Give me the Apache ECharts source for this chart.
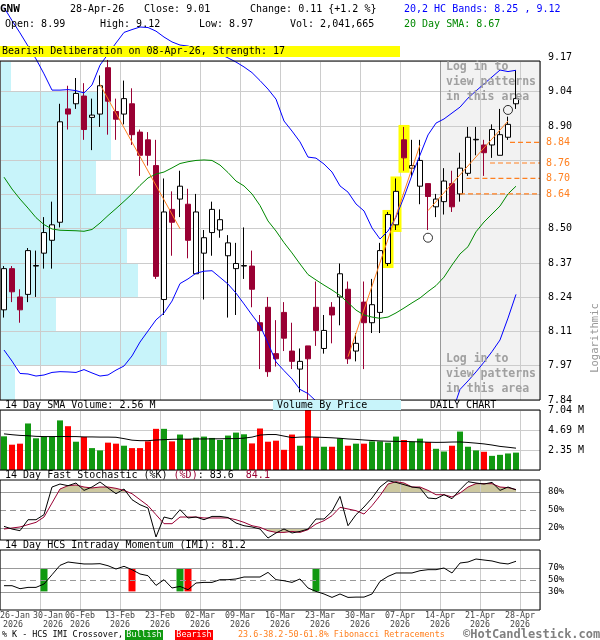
<!DOCTYPE html>
<html><head><meta charset="utf-8">
<script src="https://cdn.jsdelivr.net/npm/echarts@6/dist/echarts.min.js"></script>
<style>html,body{margin:0;padding:0;background:#fff}#c{width:600px;height:640px}</style>
</head><body><div id="c"></div>
<script>
// ---------------- DATA ----------------
const dates = ['26-Jan','27-Jan','28-Jan','29-Jan','30-Jan','02-Feb','03-Feb','04-Feb','05-Feb','06-Feb',
'09-Feb','10-Feb','11-Feb','12-Feb','13-Feb','17-Feb','18-Feb','19-Feb','20-Feb','23-Feb',
'24-Feb','25-Feb','26-Feb','27-Feb','02-Mar','03-Mar','04-Mar','05-Mar','06-Mar','09-Mar',
'10-Mar','11-Mar','12-Mar','13-Mar','16-Mar','17-Mar','18-Mar','19-Mar','20-Mar','23-Mar',
'24-Mar','25-Mar','26-Mar','27-Mar','30-Mar','31-Mar','01-Apr','02-Apr','06-Apr','07-Apr',
'08-Apr','09-Apr','10-Apr','13-Apr','14-Apr','15-Apr','16-Apr','17-Apr','20-Apr','21-Apr',
'22-Apr','23-Apr','24-Apr','27-Apr','28-Apr'];
const open  = [8.19,8.35,8.24,8.25,8.36,8.41,8.46,8.53,8.97,8.99, 9.02,8.937,8.95,9.13,8.96,8.95,8.99,8.88,8.85,8.75,
               8.23,8.58,8.62,8.60,8.33,8.41,8.49,8.50,8.40,8.35, 8.36,8.36,8.14,8.20,8.02,8.18,8.03,7.96,8.05,8.20,
               8.04,8.20,8.24,8.27,8.03,8.22,8.14,8.18,8.37,8.52, 8.85,8.74,8.67,8.68,8.59,8.61,8.68,8.64,8.72,8.85,
               8.83,8.83,8.79,8.86,8.99];
const high  = [8.36,8.36,8.27,8.43,8.42,8.55,8.61,8.99,9.06,9.09, 9.07,9.01,9.10,9.16,9.01,9.08,9.05,8.89,8.88,8.85,
               8.70,8.65,8.73,8.66,8.64,8.50,8.61,8.58,8.48,8.45, 8.51,8.42,8.17,8.24,8.15,8.22,8.14,8.04,8.05,8.30,
               8.17,8.22,8.37,8.30,8.10,8.30,8.31,8.45,8.57,8.70, 8.90,8.85,8.85,8.68,8.64,8.74,8.73,8.80,8.90,8.90,
               8.85,8.91,8.97,8.94,9.12];
const low   = [8.16,8.22,8.14,8.22,8.24,8.35,8.35,8.51,8.89,8.97, 8.85,8.81,8.90,8.87,8.85,8.91,8.83,8.71,8.75,8.31,
               8.17,8.40,8.55,8.39,8.33,8.23,8.40,8.47,8.16,8.17, 8.31,8.20,7.96,7.93,7.97,8.03,7.96,7.87,7.83,8.05,
               8.02,8.06,8.13,7.98,7.99,7.96,8.10,8.10,8.36,8.50, 8.73,8.71,8.60,8.50,8.55,8.56,8.57,8.61,8.71,8.79,
               8.71,8.78,8.79,8.85,8.97];
const close = [8.35,8.26,8.19,8.42,8.362,8.49,8.52,8.92,8.95,9.03, 8.89,8.946,9.06,9.00,8.93,9.01,8.87,8.79,8.79,8.32,
               8.57,8.53,8.67,8.46,8.57,8.47,8.58,8.54,8.45,8.37, 8.362,8.27,8.11,7.95,8.00,8.08,7.99,7.99,8.00,8.11,
               8.11,8.17,8.33,8.00,8.06,8.14,8.21,8.42,8.56,8.65, 8.78,8.75,8.77,8.63,8.62,8.69,8.59,8.74,8.86,8.852,
               8.80,8.89,8.87,8.91,9.01];
const volume = [3.95,2.97,3.09,5.46,3.72,3.92,3.92,5.82,5.14,3.32, 3.88,2.57,2.30,3.21,3.09,2.85,2.57,2.57,3.36,4.83,
                4.83,3.36,4.16,3.64,3.80,3.92,3.76,3.52,4.04,4.39, 4.19,3.12,4.87,3.32,3.44,2.37,4.16,2.85,7.04,3.83,
                2.73,2.73,3.72,2.85,3.09,3.09,3.36,3.36,3.21,3.92, 3.52,3.32,3.68,3.28,2.49,2.17,2.85,4.51,2.73,2.30,
                2.14,1.66,1.78,1.94,2.04];
const volSMA = [4.24,4.14,4.06,4.02,3.95,3.92,3.92,3.93,3.92,3.92, 3.88,3.88,3.86,3.86,3.84,3.68,3.50,3.44,3.44,3.52,
                3.56,3.60,3.62,3.62,3.64,3.64,3.66,3.66,3.68,3.68, 3.74,3.86,4.10,4.16,4.16,3.98,3.80,3.86,3.88,3.86,
                3.82,3.78,3.72,3.64,3.59,3.52,3.46,3.41,3.38,3.36, 3.35,3.32,3.30,3.26,3.24,3.25,3.28,3.29,3.23,3.15,
                3.06,2.93,2.77,2.67,2.56];
const upperBand = [9.364,9.313,9.265,9.214,9.164,9.106,9.043,9.043,9.045,9.041, 9.032,9.063,9.140,9.183,9.226,9.267,9.278,9.288,9.286,9.272,
                   9.249,9.230,9.218,9.214,9.206,9.203,9.199,9.183,9.168,9.152, 9.133,9.111,9.080,9.047,9.008,8.923,8.884,8.842,8.783,8.779,
                   8.756,8.725,8.671,8.647,8.601,8.574,8.508,8.465,8.496,8.550, 8.628,8.713,8.791,8.869,8.915,8.931,8.954,8.977,9.012,9.040,
                   9.067,9.094,9.121,9.115,9.12];
const lowerBand = [8.034,7.991,7.943,7.941,7.933,7.937,7.947,7.950,7.949,7.947, 7.958,7.945,7.933,7.937,7.956,7.972,8.011,8.065,8.108,8.151,
                   8.178,8.224,8.292,8.310,8.332,8.340,8.342,8.316,8.290,8.255, 8.213,8.170,8.129,8.061,7.988,7.954,7.922,7.881,7.865,7.836,
                   7.80,7.77,7.75,7.73,7.71,7.70,7.70,7.70,7.70,7.71, 7.72,7.72,7.73,7.73,7.74,7.76,7.79,7.881,7.914,7.949,
                   7.987,8.028,8.073,8.158,8.25];
const sma20 = [8.705,8.659,8.620,8.585,8.548,8.521,8.504,8.499,8.498,8.497, 8.495,8.502,8.527,8.556,8.583,8.611,8.640,8.673,8.702,8.717,
               8.725,8.741,8.758,8.765,8.770,8.772,8.770,8.752,8.723,8.690, 8.671,8.640,8.595,8.535,8.496,8.451,8.411,8.368,8.327,8.306,
               8.286,8.267,8.246,8.218,8.189,8.170,8.162,8.157,8.162,8.178, 8.197,8.217,8.236,8.261,8.284,8.317,8.364,8.407,8.435,8.493,
               8.531,8.562,8.593,8.640,8.67];
const stochK = [22.7,18.3,15.5,33.8,33.8,42.2,88.3,93.3,90.5,95, 82.7,88.3,96.7,86.7,77.2,85,67.2,58.8,53.3,5,
                38.3,35,50.5,36.7,38.3,33.8,39.3,39.3,37.5,28.3, 23.8,21.7,18.3,3.3,11.7,18.3,11.7,14.3,18.3,35,
                35,47.7,72.7,23.8,42.2,55,70,88.3,98.8,96, 92.2,88.3,86.7,70,68.8,75.5,68.8,83.8,97.2,95,
                93.3,96,82.7,88.3,83.6];
const stochD = [18.3,20,21.7,25.6,29.4,38.3,61.6,85,90.5,91.7, 88.3,86.7,88.3,88.3,86.1,82.7,77.2,67.2,57.2,42.2,
                27.2,27.2,38.3,38.3,38.3,36.7,36.7,36.7,36.7,33.8, 29.4,23.8,21.1,15.5,12.7,12.7,14.3,12.7,17.2,26.7,
                32.2,40.5,54.5,51.7,48.9,43.3,57.2,73.9,93.3,97.2, 95,88.3,88.3,82.7,75.5,75.5,71.7,78.3,88.3,93.9,
                93.9,93.9,88.3,87.2,84.1];
const imi = [40.5,40.5,35.5,37.7,37.7,43.3,58.8,74.4,80,78.3, 76.7,76.7,77.2,73.8,68.3,72.8,67.2,60,57.2,41,
             50.5,36.7,39.3,33.8,45,46,46,50.5,50.5,51.7, 55,55,55,62.7,50.5,48.8,46,51.7,36.7,31,
             26.7,21,26.7,21,21.5,21.5,26.7,47.7,56,61.7, 61.7,61.7,65.5,67.2,67.2,70,61.7,78.3,80,85,
             83.3,81.7,78.3,76.7,81.2];
// volume by price (relative volume per price band, bottom band first)
const vbpVolume = [15,167,56,138,127,154,96,111,111,11];
// tick labels
const priceTicks = ['7.84','7.97','8.11','8.24','8.37','8.50','','','8.90','9.04','9.17'];
const volTicks = ['','2.35 M','4.69 M','7.04 M'];
const dateTicks = ['26-Jan','30-Jan','06-Feb','13-Feb','23-Feb','02-Mar','09-Mar','16-Mar','23-Mar','30-Mar','07-Apr','14-Apr','21-Apr','28-Apr'];
const tickYear = '2026';
const stochLevels = [20,50,80], stochLabels = ['20%','50%','80%'];
const imiLevels = [30,50,70], imiLabels = ['30%','50%','70%'];
// patterns / annotations
const highlightDays = [48,49,50];
const patternLines = [[[12,9.065],[22,8.505]], [[43,8.008],[52,8.83]], [[53,8.575],[63,8.923]]];
const patternCircles = [[53,8.47],[63,8.966]];
const fibLevels = [8.84,8.76,8.70,8.64];
const fibLabels = ['8.84','8.76','8.70','8.64'];
const fibStart = [63.75,61.25,58.3,57.5];
const crossBullDays = [5,22,39];
const crossBearDays = [16,23];
const hiddenFrom = 55; // start of the "log in" area (slot units)

// ---------------- LAYOUT / STYLE ----------------
const MONO = "'DejaVu Sans Mono','Liberation Mono',monospace";
const GREEN = '#119911', RED = '#ff0000', CRED = '#990033', ORANGE = '#ff8020', VBPC = '#c8f4fa', GRIDC = '#cccccc';
const FILL = '#cdc8a0';
const priceMin = 7.84, priceStep = 0.133, stepPx = 34.26;
const mainTop = 61, mainBottom = 400;
const idxMax = (mainBottom - mainTop) / stepPx;
const priceMax = priceMin + idxMax * priceStep;
const slots = 67.5;
const X = i => i + 0.5;

const chart = echarts.init(document.getElementById('c'), null, {renderer: 'canvas'});

function gridDef(top, height, show) {
  return {left: 0, top: top, width: 540, height: height, show: show, borderColor: '#000', borderWidth: 1,
          backgroundColor: 'transparent', z: 10, containLabel: false, outerBoundsMode: 'none'};
}
const richStyle = (p) => ({fontFamily: MONO, fontSize: 8.3, color: '#444', lineHeight: 8.5, padding: [0, 0, 0, p]});
function xGrid(gi, labels) {
  const ax = {type: 'value', gridIndex: gi, position: 'bottom', min: 0, max: slots, interval: 5, z: 3,
    axisLine: {show: false}, axisTick: {show: false},
    splitLine: {show: true, lineStyle: {color: GRIDC, width: 1}},
    axisLabel: {show: false}};
  if (labels) {
    ax.axisLabel = {show: true, margin: 2, hideOverlap: false, showMinLabel: true, showMaxLabel: true,
      rich: {b: richStyle(16), c: richStyle(26), n: richStyle(0)},
      formatter: function (v) {
        const i = v / 5, k = Math.round(i);
        if (Math.abs(i - k) > 1e-6 || k < 1 || k >= dateTicks.length) return '';
        if (k === 1) return '{b|' + dateTicks[k] + '}\n{c|' + tickYear + '}';
        return '{n|' + dateTicks[k] + '}\n{n|' + tickYear + '}';
      }};
  }
  return ax;
}
// first date label, left-aligned at the panel edge
const firstLabelAxis = {type: 'value', gridIndex: 3, position: 'bottom', offset: 0, min: 0, max: slots, interval: 5,
  axisLine: {show: false}, axisTick: {show: false}, splitLine: {show: false},
  axisLabel: {show: true, margin: 2, align: 'left', showMinLabel: true, hideOverlap: false,
    rich: {n: richStyle(0), y: richStyle(3)},
    formatter: v => Math.abs(v) < 1e-6 ? '{n|' + dateTicks[0] + '}\n{y|' + tickYear + '}' : ''}};

function levelLines(levels, labels) {
  return {silent: true, symbol: ['none', 'none'], z: 4, animation: false,
    data: levels.map((lv, i) => ({yAxis: lv,
      lineStyle: {color: '#999', width: 1, type: lv === 50 ? [6, 4] : 'solid'},
      label: {show: true, position: 'end', distance: 8, formatter: labels[i], color: '#000', fontFamily: MONO, fontSize: 9}}))};
}
const lineBase = {type: 'line', symbol: 'none', showSymbol: false, silent: true, animation: false};

// polygon piece between a segment of the line and a level (only where the line is beyond the level)
function segPiece(x0, d0, x1, d1, L, above) {
  const f0 = above ? d0 - L : L - d0, f1 = above ? d1 - L : L - d1;
  if (f0 <= 0 && f1 <= 0) return null;
  if (f0 >= 0 && f1 >= 0) return [[x0, L], [x0, d0], [x1, d1], [x1, L]];
  const xc = x0 + f0 / (f0 - f1) * (x1 - x0);
  return f0 > 0 ? [[x0, L], [x0, d0], [xc, L]] : [[xc, L], [x1, d1], [x1, L]];
}

const series = [];
// volume by price
series.push({type: 'custom', xAxisIndex: 5, yAxisIndex: 0, z: 2, silent: true, animation: false,
  data: vbpVolume.map((v, j) => [v, priceMin + j * priceStep, priceMin + (j + 1) * priceStep]),
  encode: {x: 0, y: [1, 2]},
  renderItem: function (params, api) {
    const p0 = api.coord([0, api.value(2)]);
    const p1 = api.coord([api.value(0), api.value(1)]);
    const cs = params.coordSys;
    const r = echarts.graphic.clipRectByRect({x: p0[0], y: p0[1], width: p1[0] - p0[0], height: p1[1] - p0[1]},
      {x: cs.x, y: cs.y, width: cs.width, height: cs.height});
    return r ? {type: 'rect', shape: r, style: {fill: VBPC}} : null;
  }});
// yellow pattern highlight
series.push({type: 'custom', xAxisIndex: 0, yAxisIndex: 0, z: 4, silent: true, animation: false,
  data: highlightDays.map(i => [X(i), high[i], low[i]]),
  encode: {x: 0, y: [1, 2]},
  renderItem: function (params, api) {
    const t = api.coord([api.value(0), api.value(1)]);
    const b = api.coord([api.value(0), api.value(2)]);
    return {type: 'rect', shape: {x: t[0] - 5.5, y: t[1] - 2, width: 11, height: b[1] - t[1] + 4}, style: {fill: '#ffff00'}};
  }});
// candles
series.push({type: 'candlestick', xAxisIndex: 0, yAxisIndex: 0, z: 5, barWidth: 5, silent: true, animation: false,
  data: dates.map((d, i) => [X(i), open[i], close[i], low[i], high[i]]),
  itemStyle: {color: '#ffffff', color0: CRED, borderColor: '#000000', borderColor0: CRED, borderWidth: 1},
  markArea: {silent: true, z: 1, itemStyle: {color: '#f2f2f2', borderWidth: 0}, data: [[{xAxis: hiddenFrom}, {xAxis: slots}]]},
  markLine: {silent: true, z: 4, symbol: ['none', 'none'], label: {show: false}, lineStyle: {color: '#999', width: 1, type: 'solid'}, data: [{xAxis: hiddenFrom}]}
});
series.push(Object.assign({}, lineBase, {xAxisIndex: 0, yAxisIndex: 0, z: 6, clip: false,
  data: upperBand.map((v, i) => [X(i), v]), lineStyle: {color: '#0000ff', width: 1}}));
series.push(Object.assign({}, lineBase, {xAxisIndex: 0, yAxisIndex: 0, z: 6, clip: true,
  data: lowerBand.map((v, i) => [X(i), v]), lineStyle: {color: '#0000ff', width: 1}}));
series.push(Object.assign({}, lineBase, {xAxisIndex: 0, yAxisIndex: 0, z: 6,
  data: sma20.map((v, i) => [X(i), v]), lineStyle: {color: '#008800', width: 1}}));
patternLines.forEach(pl => series.push(Object.assign({}, lineBase, {xAxisIndex: 0, yAxisIndex: 0, z: 7,
  data: pl.map(p => [X(p[0]), p[1]]), lineStyle: {color: ORANGE, width: 1}})));
fibLevels.forEach((lv, i) => series.push(Object.assign({}, lineBase, {xAxisIndex: 0, yAxisIndex: 0, z: 7,
  data: [[fibStart[i], lv], [slots, lv]], lineStyle: {color: ORANGE, width: 1.2, type: [5, 3]},
  endLabel: {show: true, formatter: fibLabels[i], color: ORANGE, fontFamily: MONO, fontSize: 10, distance: 6}})));
series.push({type: 'scatter', xAxisIndex: 0, yAxisIndex: 0, z: 8, silent: true, animation: false, symbol: 'circle', symbolSize: 9,
  data: patternCircles.map(c => [X(c[0]), c[1]]),
  itemStyle: {color: 'rgba(0,0,0,0)', borderColor: '#000', borderWidth: 1}});
// volume
series.push({type: 'bar', xAxisIndex: 1, yAxisIndex: 3, z: 4, barWidth: 6, silent: true, animation: false,
  data: volume.map((v, i) => ({value: [X(i), v], itemStyle: {color: close[i] >= open[i] ? GREEN : RED}}))});
series.push(Object.assign({}, lineBase, {xAxisIndex: 1, yAxisIndex: 3, z: 6,
  data: volSMA.map((v, i) => [X(i), v]), lineStyle: {color: '#000', width: 1}}));
// stochastic shading between %D and the 80 / 20 levels
series.push({type: 'custom', xAxisIndex: 2, yAxisIndex: 4, z: 2, silent: true, animation: false,
  data: stochD.map((v, i) => [X(i), v]), encode: {x: 0, y: 1},
  renderItem: function (params, api) {
    const i = params.dataIndexInside;
    if (i >= params.dataInsideLength - 1) return null;
    const x0 = api.value(0), d0 = api.value(1), x1 = api.value(0, i + 1), d1 = api.value(1, i + 1);
    const kids = [];
    [[80, true], [20, false]].forEach(([L, ab]) => {
      const pc = segPiece(x0, d0, x1, d1, L, ab);
      if (pc) kids.push({type: 'polygon', shape: {points: pc.map(p => api.coord(p))}, style: {fill: FILL}});
    });
    return {type: 'group', children: kids};
  }});
series.push(Object.assign({}, lineBase, {xAxisIndex: 2, yAxisIndex: 4, z: 6,
  data: stochD.map((v, i) => [X(i), v]), lineStyle: {color: CRED, width: 1}}));
series.push(Object.assign({}, lineBase, {xAxisIndex: 2, yAxisIndex: 4, z: 7,
  data: stochK.map((v, i) => [X(i), v]), lineStyle: {color: '#000', width: 1},
  markLine: levelLines(stochLevels, stochLabels)}));
// IMI crossover bars
const crossData = crossBullDays.map(d => [X(d), 31, 69, 1]).concat(crossBearDays.map(d => [X(d), 31, 69, 0]));
series.push({type: 'custom', xAxisIndex: 3, yAxisIndex: 5, z: 3, silent: true, animation: false,
  data: crossData, encode: {x: 0, y: [1, 2]},
  renderItem: function (params, api) {
    const t = api.coord([api.value(0), api.value(2)]);
    const b = api.coord([api.value(0), api.value(1)]);
    return {type: 'rect', shape: {x: t[0] - 3.5, y: t[1], width: 7, height: b[1] - t[1]}, style: {fill: api.value(3) ? GREEN : RED}};
  }});
series.push(Object.assign({}, lineBase, {xAxisIndex: 3, yAxisIndex: 5, z: 6,
  data: imi.map((v, i) => [X(i), v]), lineStyle: {color: '#000', width: 1},
  markLine: levelLines(imiLevels, imiLabels)}));

// ---------------- GRAPHIC TEXT ----------------
function T(x, y, text, o) {
  o = o || {};
  const font = (o.bold ? 'bold ' : '') + (o.size || 10) + 'px ' + MONO;
  return {type: 'text', x: x, y: y, z: 50, silent: true, rotation: o.rotation || 0,
    style: Object.assign({text: text, font: font, fill: o.fill || '#000',
      align: o.align || 'left', textAlign: o.align || 'left', verticalAlign: 'middle', textVerticalAlign: 'middle'}, o.style || {})};
}
function R(x, y, w, h, fill) {
  return {type: 'rect', z: 49, silent: true, shape: {x: x, y: y, width: w, height: h}, style: {fill: fill}};
}
const LOGIN = '#a0a0a0';
const graphic = [
  T(0, 9, 'GNW', {bold: true, size: 11}),
  T(70, 9, '28-Apr-26'),
  T(144, 9, 'Close: 9.01'),
  T(250, 9, 'Change: 0.11 {+1.2 %}'),
  T(404, 9, '20,2 HC Bands: 8.25 , 9.12', {fill: '#0000ff'}),
  T(5, 24, 'Open: 8.99'),
  T(100, 24, 'High: 9.12'),
  T(199, 24, 'Low: 8.97'),
  T(290, 24, 'Vol: 2,041,665'),
  T(404, 24, '20 Day SMA: 8.67', {fill: '#008800'}),
  R(0, 46, 400, 11, '#ffff00'),
  T(2, 51.5, 'Bearish Deliberation on 08-Apr-26, Strength: 17'),
  T(5, 405, '14 Day SMA Volume: 2.56 M'),
  R(273, 400, 128, 10, VBPC),
  T(277, 405.5, 'Volume By Price'),
  T(430, 405.5, 'DAILY CHART'),
  T(5, 475.5, '14 Day Fast Stochastic (%K) {r|(%D)}: 83.6  {r|84.1}', {style: {rich: {r: {fill: CRED, color: CRED, font: '10px ' + MONO}}}}),
  T(5, 545, '14 Day HCS Intraday Momentum (IMI): 81.2'),
  T(446, 67, 'Log in to', {bold: true, size: 11.5, fill: LOGIN}),
  T(446, 82, 'view patterns', {bold: true, size: 11.5, fill: LOGIN}),
  T(446, 97, 'in this area', {bold: true, size: 11.5, fill: LOGIN}),
  T(446, 359.5, 'Log in to', {bold: true, size: 11.5, fill: LOGIN}),
  T(446, 374.5, 'view patterns', {bold: true, size: 11.5, fill: LOGIN}),
  T(446, 389, 'in this area', {bold: true, size: 11.5, fill: LOGIN}),
  T(595, 338, 'Logarithmic', {fill: '#999', size: 10.5, align: 'center', rotation: Math.PI / 2}),
  T(2, 635, '% K - HCS IMI Crossover,', {size: 8.4}),
  R(125, 630, 38, 10, GREEN),
  T(144, 635, 'Bullish', {size: 8.4, fill: '#fff', align: 'center'}),
  R(175, 630, 38, 10, RED),
  T(194, 635, 'Bearish', {size: 8.4, fill: '#fff', align: 'center'}),
  T(238, 635, '23.6-38.2-50-61.8% Fibonacci Retracements', {size: 8.4, fill: ORANGE}),
  T(463, 635, '\u00A9HotCandlestick.com', {bold: true, size: 12, fill: '#808080'})
];

const option = {
  animation: false,
  backgroundColor: '#ffffff',
  grid: [gridDef(mainTop, mainBottom - mainTop, true), gridDef(410, 60, true), gridDef(480, 60, true), gridDef(550, 60, true),
         gridDef(mainBottom - 10 * stepPx, 10 * stepPx, false)],
  xAxis: [xGrid(0, false), xGrid(1, false), xGrid(2, false), xGrid(3, true),
          {type: 'value', gridIndex: 4, min: 0, max: 1, show: false},
          {type: 'value', gridIndex: 0, min: 0, max: 540, show: false},
          firstLabelAxis],
  yAxis: [
    {type: 'value', gridIndex: 0, min: priceMin, max: priceMax, show: false, scale: true},
    {type: 'value', gridIndex: 0, min: 0, max: idxMax, interval: 1, z: 3, position: 'right',
     axisLine: {show: false}, axisTick: {show: false}, axisLabel: {show: false},
     splitLine: {show: true, lineStyle: {color: GRIDC, width: 1}}},
    {type: 'value', gridIndex: 4, min: 0, max: 10, interval: 1, position: 'right',
     axisLine: {show: false}, axisTick: {show: false}, splitLine: {show: false},
     axisLabel: {show: true, margin: 8, color: '#000', fontFamily: MONO, fontSize: 10, padding: [0, 0, 7, 0],
       showMinLabel: true, showMaxLabel: true, hideOverlap: false,
       formatter: v => { const k = Math.round(v); return Math.abs(v - k) < 1e-6 && priceTicks[k] !== undefined ? priceTicks[k] : ''; }}},
    {type: 'value', gridIndex: 1, min: 0, max: 7.04, interval: 7.04 / 3, position: 'right', z: 3,
     axisLine: {show: false}, axisTick: {show: false},
     splitLine: {show: true, lineStyle: {color: GRIDC, width: 1}},
     axisLabel: {show: true, margin: 8, color: '#000', fontFamily: MONO, fontSize: 10, padding: [3, 0, 0, 0],
       showMinLabel: true, showMaxLabel: true, hideOverlap: false,
       formatter: v => { const k = Math.round(v / (7.04 / 3)); return volTicks[k] || ''; }}},
    {type: 'value', gridIndex: 2, min: 0, max: 100, show: false},
    {type: 'value', gridIndex: 3, min: 0, max: 100, show: false}
  ],
  series: series,
  graphic: {elements: graphic}
};
chart.setOption(option);
</script></body></html>
